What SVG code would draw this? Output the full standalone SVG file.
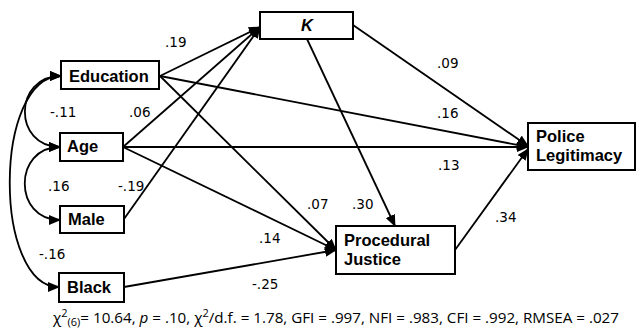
<svg xmlns="http://www.w3.org/2000/svg" width="636" height="336" viewBox="0 0 636 336">
<defs>
<marker id="ah" markerUnits="userSpaceOnUse" markerWidth="12" markerHeight="10" refX="11" refY="5" orient="auto-start-reverse">
<path d="M0,0 L12,5 L0,10 Z" fill="#000"/>
</marker>
<style>
.box{fill:#fff;stroke:#000;stroke-width:2}
.lbl{font-family:"Liberation Sans",Arial,sans-serif;font-weight:bold;font-size:16.5px;fill:#000}
.num{font-family:"DejaVu Sans",Verdana,sans-serif;font-size:13.5px;fill:#000}
.cn{fill:none;stroke:#000;stroke-width:1.8;marker-end:url(#ah)}
.cv{fill:none;stroke:#000;stroke-width:1.8;marker-end:url(#ah);marker-start:url(#ah)}
.cap{font-family:"Open Sans","Liberation Sans",sans-serif;font-size:15.2px;fill:#000}
</style>
</defs>
<rect width="636" height="336" fill="#fff"/>
<g id="connectors">
<line class="cn" x1="160" y1="76" x2="260" y2="27"/>
<line class="cn" x1="123" y1="147" x2="260" y2="27"/>
<line class="cn" x1="124" y1="219" x2="260" y2="27"/>
<line class="cn" x1="160" y1="76" x2="336" y2="250"/>
<line class="cn" x1="123" y1="147" x2="336" y2="250"/>
<line class="cn" x1="124" y1="287" x2="336" y2="250"/>
<line class="cn" x1="307" y1="39" x2="395" y2="226"/>
<line class="cn" x1="353" y1="25" x2="528" y2="146"/>
<line class="cn" x1="160" y1="76" x2="528" y2="147"/>
<line class="cn" x1="123" y1="147" x2="528" y2="147"/>
<line class="cn" x1="455" y1="250" x2="528" y2="149"/>
<path class="cv" d="M61,76 C13,76 13,147 60,147"/>
<path class="cv" d="M60,147 C13,147 13,220 60,220"/>
<path class="cv" d="M61,76 C-7,76 -7,287 59,287"/>
</g>
<g id="education"><rect class="box" x="61" y="61" width="98" height="28"/><text class="lbl" x="69" y="82">Education</text></g>
<g id="age"><rect class="box" x="60" y="133" width="63" height="28"/><text class="lbl" x="67" y="152">Age</text></g>
<g id="male"><rect class="box" x="60" y="206" width="64" height="27"/><text class="lbl" x="68" y="225">Male</text></g>
<g id="black"><rect class="box" x="59" y="273" width="65" height="29"/><text class="lbl" x="67" y="293">Black</text></g>
<g id="k"><rect class="box" x="260" y="12" width="93" height="27"/><text class="lbl" x="307" y="31" text-anchor="middle" font-style="italic">K</text></g>
<g id="police-legitimacy"><rect class="box" x="528" y="123" width="107" height="47"/><text class="lbl" x="536" y="142">Police</text><text class="lbl" x="536" y="161">Legitimacy</text></g>
<g id="procedural-justice"><rect class="box" x="336" y="226" width="119" height="48"/><text class="lbl" x="344" y="246">Procedural</text><text class="lbl" x="344" y="265">Justice</text></g>
<g id="labels">
<text class="num" x="165" y="47">.19</text>
<text class="num" x="129" y="117">.06</text>
<text class="num" x="50" y="117">-.11</text>
<text class="num" x="48" y="191">.16</text>
<text class="num" x="118" y="191">-.19</text>
<text class="num" x="39" y="259">-.16</text>
<text class="num" x="259" y="243">.14</text>
<text class="num" x="252" y="289">-.25</text>
<text class="num" x="307" y="209">.07</text>
<text class="num" x="352" y="209">.30</text>
<text class="num" x="495" y="222">.34</text>
<text class="num" x="438" y="170">.13</text>
<text class="num" x="437" y="118">.16</text>
<text class="num" x="437" y="68">.09</text>
</g>
<text class="cap" x="53" y="323">χ<tspan font-size="11" dy="-6">2</tspan><tspan font-size="11" dy="9">(6)</tspan><tspan dy="-3">= 10.64, </tspan><tspan font-style="italic">p</tspan> = .10, χ<tspan font-size="11" dy="-6">2</tspan><tspan dy="6">/d.f. = 1.78, GFI = .997, NFI = .983, CFI = .992, RMSEA = .027</tspan></text>
</svg>
